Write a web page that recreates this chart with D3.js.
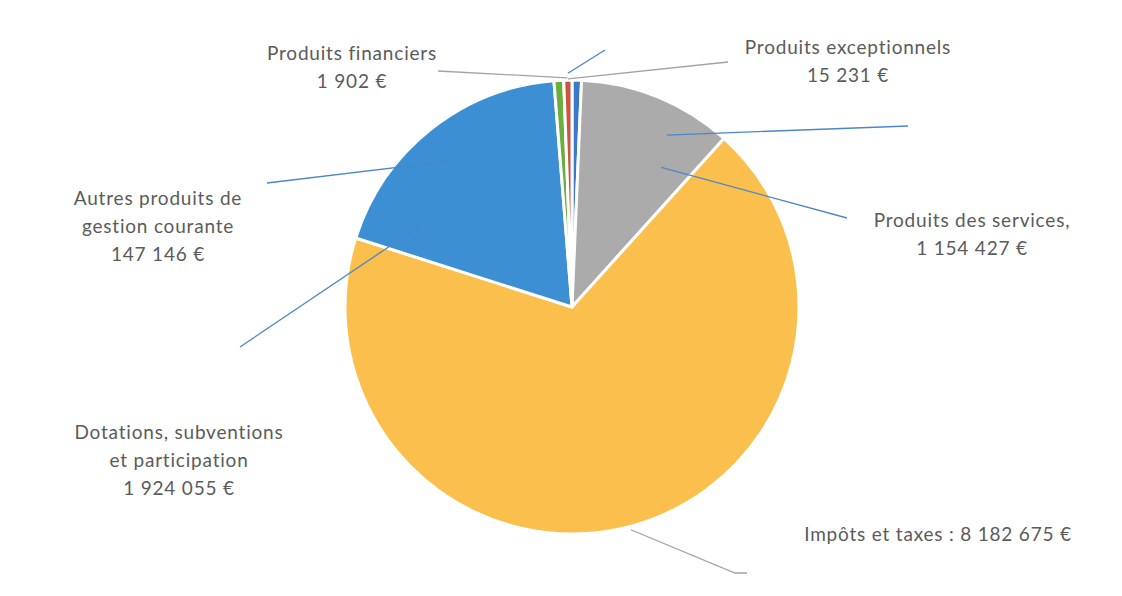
<!DOCTYPE html>
<html lang="fr">
<head>
  <meta charset="utf-8">
  <title>Recettes de fonctionnement</title>
  <script src="https://cdn.jsdelivr.net/npm/d3@7"></script>
  <style type="text/css">
    body { margin: 0; background: #fff; }
    svg text { font-family: Lato, "Open Sans", sans-serif; fill: #5b5b5b; letter-spacing: 0.8px; font-variant-ligatures: none; }
  </style>
</head>
<body>
  <script type="text/javascript">
    // slices clockwise from 12 o'clock, shares (%)
    var categories = ["Produits financiers", "Produits des services", "Impôts et taxes",
      "Dotations, subventions et participation", "Autres produits de gestion courante", "Produits exceptionnels"];
    var sliceShares = [0.67, 11.0, 68.2, 18.8, 0.69, 0.58];
    var sliceColors = ["#3b78c8", "#ababab", "#fbbf4e", "#3c8fd2", "#6aae3f", "#c9553f"];

    // label texts as printed
    var labelLines = [
      ["Produits financiers", "1 902 €"],
      ["Produits exceptionnels", "15 231 €"],
      ["Produits des services,", "1 154 427 €"],
      ["Autres produits de", "gestion courante", "147 146 €"],
      ["Dotations, subventions", "et participation", "1 924 055 €"],
      ["Impôts et taxes : 8 182 675 €"]
    ];

    var w = 1122, h = 596;
    var cx = 572, cy = 307, radius = 227;

    // label placement
    var labelPos = [
      { x: 352, y: 60 }, { x: 848, y: 54 }, { x: 972, y: 227 },
      { x: 158, y: 205 }, { x: 179, y: 439 }, { x: 938, y: 541 }
    ];

    // leader lines: inner end in polar (deg from top, fraction of radius), outer end in px
    var leaders = [
      { a: 358.8, r: 1.01, to: [[438, 71]], color: "#a3a3a3" },
      { a: 359.0, r: 1.005, to: [[728, 62]], color: "#a3a3a3" },
      { a: 359.0, r: 1.03, to: [[605, 50]], color: "#4a86c8" },
      { a: 28.9, r: 0.865, to: [[908, 126]], color: "#4a86c8" },
      { a: 32.6, r: 0.73, to: [[847, 218]], color: "#4a86c8" },
      { a: 319.4, r: 0.845, to: [[267, 183]], color: "#4a86c8" },
      { a: 298.7, r: 0.755, to: [[240, 347]], color: "#4a86c8" },
      { a: 165.2, r: 1.015, to: [[735, 573], [747, 573]], color: "#a3a3a3" }
    ];

    var svg = d3.select("body")
      .append("svg")
      .attr("width", w)
      .attr("height", h);

    var pie = d3.pie()
      .sort(null)
      .value(function (d) { return d; });

    var arc = d3.arc()
      .innerRadius(0)
      .outerRadius(radius);

    var g = svg.append("g")
      .attr("transform", "translate(" + cx + "," + cy + ")");

    g.selectAll("path")
      .data(pie(sliceShares))
      .enter()
      .append("path")
      .attr("d", arc)
      .attr("fill", function (d, i) { return sliceColors[i]; })
      .attr("stroke", "#fff")
      .attr("stroke-width", 3)
      .attr("stroke-linejoin", "round");

    // leader lines
    var line = d3.line();
    svg.selectAll("path.leader")
      .data(leaders)
      .enter()
      .append("path")
      .attr("class", "leader")
      .attr("d", function (d) {
        var t = d.a * Math.PI / 180;
        var p0 = [cx + Math.sin(t) * radius * d.r, cy - Math.cos(t) * radius * d.r];
        return line([p0].concat(d.to));
      })
      .attr("fill", "none")
      .attr("stroke", function (d) { return d.color; })
      .attr("stroke-width", 1.3);

    // labels
    var labels = svg.selectAll("text.lbl")
      .data(labelLines)
      .enter()
      .append("text")
      .attr("class", "lbl")
      .attr("text-anchor", "middle")
      .attr("font-size", 19)
      .attr("x", function (d, i) { return labelPos[i].x; })
      .attr("y", function (d, i) { return labelPos[i].y; });

    labels.selectAll("tspan")
      .data(function (d, i) { return d.map(function (s) { return { s: s, x: labelPos[i].x }; }); })
      .enter()
      .append("tspan")
      .attr("x", function (d) { return d.x; })
      .attr("dy", function (d, j) { return j === 0 ? 0 : 28; })
      .text(function (d) { return d.s; });
  </script>
</body>
</html>
